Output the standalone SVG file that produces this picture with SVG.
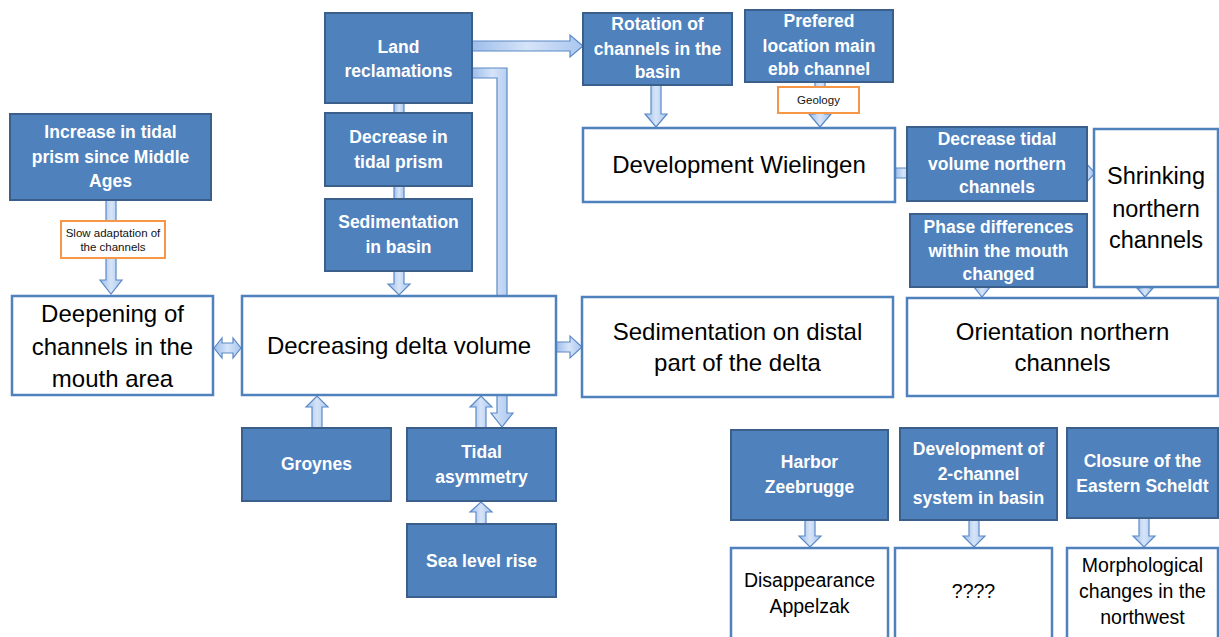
<svg xmlns="http://www.w3.org/2000/svg" width="1219" height="637" viewBox="0 0 1219 637">
<defs>
<linearGradient id="gv" x1="0" y1="0" x2="1" y2="0"><stop offset="0" stop-color="#9DBDEB"/><stop offset="0.5" stop-color="#D6E4F8"/><stop offset="1" stop-color="#A9C6EF"/></linearGradient>
<style>
.a{fill:url(#gv);stroke:#5B89C6;stroke-width:1.2;stroke-linejoin:miter}
.d{fill:#4F81BD;stroke:#3A5F8B;stroke-width:2}
.w{fill:#FFFFFF;stroke:#4F81BD;stroke-width:2.5}
.o{fill:#FFFFFF;stroke:#F79646;stroke-width:2}
text{font-family:"Liberation Sans",Arial,sans-serif;text-anchor:middle}
.tb{fill:#FFFFFF;font-weight:bold;font-size:17.5px}
.tl{fill:#000000;font-size:24px}
.tm{fill:#000000;font-size:19.5px}
.ts{fill:#111111;font-size:11.5px}
</style>
</defs>
<rect width="1219" height="637" fill="#FFFFFF"/>
<g id="connectors">
<polygon class="a" points="106,200 116,200 116,280 122,280 111,294 100,280 106,280"/>
<polygon class="a" points="214,348 222,338 222,343 233,343 233,338 241,348 233,358 233,353 222,353 222,358"/>
<rect class="a" x="394" y="103" width="10" height="10"/>
<rect class="a" x="394" y="186" width="10" height="13"/>
<polygon class="a" points="394,271 404,271 404,284 410,284 399,295 388,284 394,284"/>
<polygon class="a" points="472,41 570,41 570,35 583,46 570,57 570,51 472,51"/>
<polygon class="a" points="472,68 507,68 507,413 513,413 502,427 491,413 497,413 497,78 472,78"/>
<polygon class="a" points="312,428 312,407 306,407 317,396 328,407 322,407 322,428"/>
<polygon class="a" points="476,428 476,407 470,407 481,396 492,407 486,407 486,428"/>
<polygon class="a" points="476,524 476,512 470,512 481,502 492,512 486,512 486,524"/>
<polygon class="a" points="556,342 570,342 570,336 582,347 570,358 570,352 556,352"/>
<polygon class="a" points="651,85 661,85 661,114 667,114 656,127 645,114 651,114"/>
<polygon class="a" points="815,82 825,82 825,114 831,114 820,127 809,114 815,114"/>
<polygon class="a" points="895,168 912,168 912,178 895,178"/>
<polygon class="a" points="1070,168 1085,168 1085,162 1095,173 1085,184 1085,178 1070,178"/>
<polygon class="a" points="977,275 987,275 987,287 990,287 982,297 974,287 977,287"/>
<polygon class="a" points="1140,280 1150,280 1150,288 1153,288 1145,297 1137,288 1140,288"/>
<polygon class="a" points="805,520 815,520 815,536 821,536 810,547 799,536 805,536"/>
<polygon class="a" points="969,520 979,520 979,536 985,536 974,547 963,536 969,536"/>
<polygon class="a" points="1139,518 1149,518 1149,536 1155,536 1144,547 1133,536 1139,536"/>
</g>
<g id="increase-tidal-prism"><rect class="d" x="10" y="114" width="201" height="86"/>
<text class="tb" x="110.5" y="138">Increase in tidal</text><text class="tb" x="110.5" y="163">prism since Middle</text><text class="tb" x="110.5" y="187">Ages</text></g>
<g id="slow-adaptation"><rect class="o" x="61" y="221" width="104" height="37"/>
<text class="ts" x="113" y="237">Slow adaptation of</text><text class="ts" x="113" y="251">the channels</text></g>
<g id="deepening"><rect class="w" x="12" y="296" width="201" height="99"/>
<text class="tl" x="112.5" y="322">Deepening of</text><text class="tl" x="112.5" y="355">channels in the</text><text class="tl" x="112.5" y="387">mouth area</text></g>
<g id="land-reclamations"><rect class="d" x="325" y="13" width="147" height="90"/>
<text class="tb" x="398.5" y="53">Land</text><text class="tb" x="398.5" y="77">reclamations</text></g>
<g id="decrease-tidal-prism"><rect class="d" x="325" y="113" width="147" height="73"/>
<text class="tb" x="398.5" y="143">Decrease in</text><text class="tb" x="398.5" y="168">tidal prism</text></g>
<g id="sedimentation-basin"><rect class="d" x="325" y="199" width="147" height="72"/>
<text class="tb" x="398.5" y="228">Sedimentation</text><text class="tb" x="398.5" y="253">in basin</text></g>
<g id="decreasing-delta"><rect class="w" x="242" y="296" width="314" height="99"/>
<text class="tl" x="399" y="354">Decreasing delta volume</text></g>
<g id="groynes"><rect class="d" x="242" y="428" width="149" height="73"/>
<text class="tb" x="316.5" y="470">Groynes</text></g>
<g id="tidal-asymmetry"><rect class="d" x="407" y="428" width="149" height="73"/>
<text class="tb" x="481.5" y="458">Tidal</text><text class="tb" x="481.5" y="483">asymmetry</text></g>
<g id="sea-level-rise"><rect class="d" x="407" y="524" width="149" height="73"/>
<text class="tb" x="481.5" y="567">Sea level rise</text></g>
<g id="rotation-channels"><rect class="d" x="583" y="13" width="149" height="72"/>
<text class="tb" x="657.5" y="30">Rotation of</text><text class="tb" x="657.5" y="55">channels in the</text><text class="tb" x="657.5" y="78">basin</text></g>
<g id="prefered-location"><rect class="d" x="745" y="10" width="148" height="72"/>
<text class="tb" x="819" y="27">Prefered</text><text class="tb" x="819" y="52">location main</text><text class="tb" x="819" y="75">ebb channel</text></g>
<g id="geology"><rect class="o" x="778" y="87" width="81" height="26"/>
<text class="ts" x="818.5" y="104">Geology</text></g>
<g id="development-wielingen"><rect class="w" x="583" y="128" width="312" height="74"/>
<text class="tl" x="739" y="173">Development Wielingen</text></g>
<g id="decrease-tidal-volume"><rect class="d" x="907" y="127" width="180" height="74"/>
<text class="tb" x="997" y="145">Decrease tidal</text><text class="tb" x="997" y="170">volume northern</text><text class="tb" x="997" y="193">channels</text></g>
<g id="shrinking"><rect class="w" x="1094" y="129" width="124" height="158"/>
<text class="tl" x="1156" y="184" style="font-size:23.5px">Shrinking</text><text class="tl" x="1156" y="217" style="font-size:23.5px">northern</text><text class="tl" x="1156" y="248" style="font-size:23.5px">channels</text></g>
<g id="phase-differences"><rect class="d" x="910" y="214" width="177" height="73"/>
<text class="tb" x="998.5" y="233">Phase differences</text><text class="tb" x="998.5" y="257">within the mouth</text><text class="tb" x="998.5" y="280">changed</text></g>
<g id="orientation-northern"><rect class="w" x="907" y="298" width="311" height="98"/>
<text class="tl" x="1062.5" y="340">Orientation northern</text><text class="tl" x="1062.5" y="371">channels</text></g>
<g id="sedimentation-distal"><rect class="w" x="582" y="297" width="311" height="100"/>
<text class="tl" x="737.5" y="340">Sedimentation on distal</text><text class="tl" x="737.5" y="371">part of the delta</text></g>
<g id="harbor-zeebrugge"><rect class="d" x="731" y="430" width="157" height="90"/>
<text class="tb" x="809.5" y="468">Harbor</text><text class="tb" x="809.5" y="493">Zeebrugge</text></g>
<g id="two-channel-system"><rect class="d" x="900" y="428" width="157" height="92"/>
<text class="tb" x="978.5" y="455">Development of</text><text class="tb" x="978.5" y="480">2-channel</text><text class="tb" x="978.5" y="504">system in basin</text></g>
<g id="closure-eastern-scheldt"><rect class="d" x="1067" y="428" width="151" height="90"/>
<text class="tb" x="1142.5" y="467">Closure of the</text><text class="tb" x="1142.5" y="492">Eastern Scheldt</text></g>
<g id="disappearance-appelzak"><rect class="w" x="731" y="548" width="157" height="95"/>
<text class="tm" x="809.5" y="587">Disappearance</text><text class="tm" x="809.5" y="613">Appelzak</text></g>
<g id="unknown"><rect class="w" x="895" y="548" width="157" height="95"/>
<text class="tm" x="973.5" y="598">????</text></g>
<g id="morphological-changes"><rect class="w" x="1067" y="548" width="151" height="95"/>
<text class="tm" x="1142.5" y="572">Morphological</text><text class="tm" x="1142.5" y="598">changes in the</text><text class="tm" x="1142.5" y="624">northwest</text></g>
</svg>
